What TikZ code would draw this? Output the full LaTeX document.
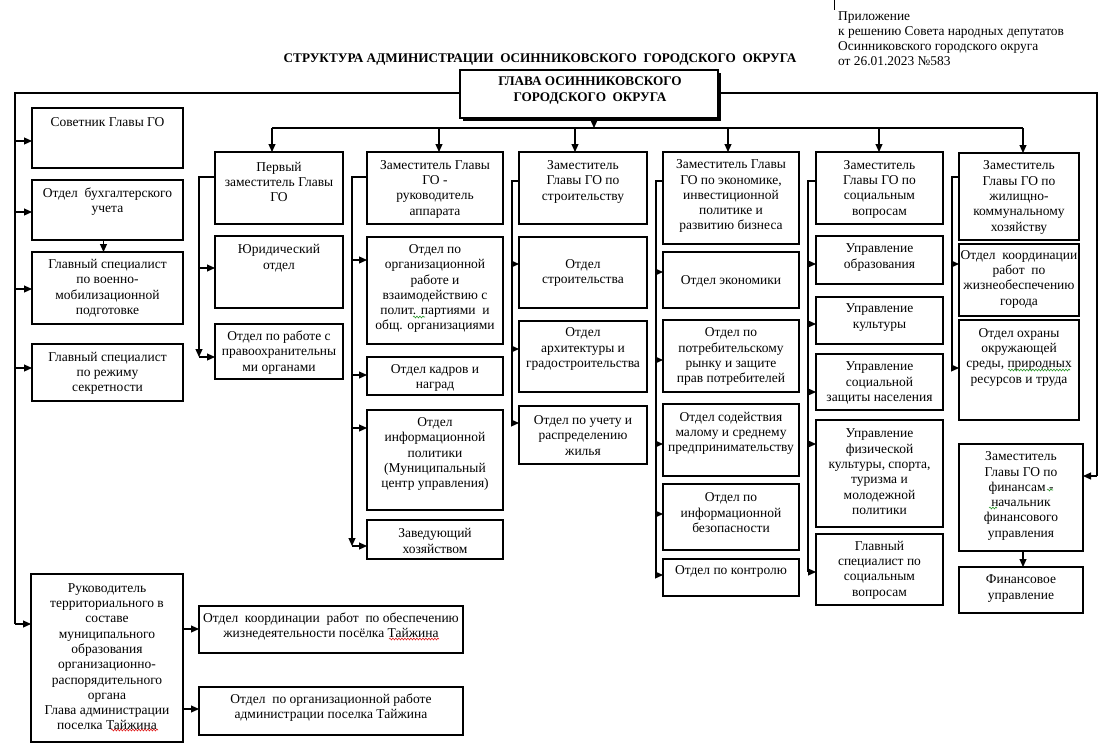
\documentclass[tikz,border=0pt]{standalone}
\usepackage{fontspec}
\setmainfont{Liberation Serif}
\usetikzlibrary{arrows.meta,decorations.pathmorphing}
\newcommand\bx[7]{%
  \node[box, minimum width={#4pt-#2pt}, minimum height={#5pt-#3pt}] (#1) at ({(#2+#4)/2},{(#3+#5)/2}) {};
  \node[txt] (#1-t) at ({(#2+#4)/2},#6) {#7};}
\newcommand\ar[3]{%
  \coordinate (tmp) at (0,#3);
  \draw[arr] (#1 |- tmp) -- (#2.west |- tmp);}
\definecolor{spellred}{RGB}{225,30,30}
\definecolor{spellgreen}{RGB}{40,150,40}
\begin{document}
\begin{tikzpicture}[x=1pt,y=-1pt,
  box/.style={draw, line width=1.1pt, inner sep=0pt, outer sep=0pt, fill=white},
  txt/.style={align=center, inner sep=0pt, font=\fontsize{13.5}{15.3}\selectfont},
  arr/.style={line width=1.1pt, -{Triangle[length=8pt,width=7pt]}},
  ln/.style={line width=1.1pt},
  wavy/.style={line width=0.6pt, decorate, decoration={snake, amplitude=0.9pt, segment length=3pt}}]
\useasboundingbox (0,0) rectangle (1117,753);

% header texts
\node[anchor=west, align=left, inner sep=0pt, font=\fontsize{13.4}{15}\selectfont] (app-note) at (838,38.5)
  {Приложение\\к решению Совета народных депутатов\\Осинниковского городского округа\\от 26.01.2023 №583};
\coordinate (tick1) at (834,0);
\coordinate (tick2) at (834,10);
\draw[line width=0.9pt] (tick1) -- (tick2);
\node[inner sep=0pt, font=\bfseries\fontsize{13.2}{15}\selectfont] (title) at (540,60)
  {СТРУКТУРА АДМИНИСТРАЦИИ\ \ ОСИННИКОВСКОГО\ \ ГОРОДСКОГО\ \ ОКРУГА};

% frame lines
\coordinate (busL) at (15,93);
\coordinate (busR) at (1097,93);
\coordinate (busLe) at (15,624);
\coordinate (busRe) at (1097,476);
\draw[ln] (busLe) -- (busL) -- (busR) -- (busRe);

% head box
\fill (463,73) rectangle (721,121);
\node[box, line width=1.5pt, minimum width=258pt, minimum height=48pt] (head) at (589,94) {};
\node[txt, font=\bfseries\fontsize{13.2}{16}\selectfont] (head-t) at (590,91) {ГЛАВА ОСИННИКОВСКОГО\\ГОРОДСКОГО\ \ ОКРУГА};

% top bus
\coordinate (busT) at (594,128);
\coordinate (busTl) at (272,128);
\coordinate (busTr) at (1023,128);
\draw[arr] (head.south -| busT) -- (busT);
\draw[ln] (busTl) -- (busTr);

% left column
\bx{sov}{32}{108}{183}{168}{122}{Советник Главы ГО}
\bx{bux}{32}{180}{183}{240}{201.8}{Отдел\ \ бухгалтерского\\учета}
\bx{voen}{32}{252}{183}{324}{288.3}{Главный специалист\\по военно-\\мобилизационной\\подготовке}
\bx{sekr}{32}{344}{183}{401}{373.5}{Главный специалист\\по режиму\\секретности}
\bx{ruk}{31}{574}{183}{742}{656.7}{Руководитель\\территориального в\\составе\\муниципального\\образования\\организационно-\\распорядительного\\органа\\Глава администрации\\поселка Тайжина}
\bx{tk1}{199}{606}{463}{653}{626.8}{Отдел\ \ координации\ \ работ\ \ по обеспечению\\жизнедеятельности посёлка Тайжина}
\bx{tk2}{199}{687}{463}{735}{707.5}{Отдел\ \ по организационной работе\\администрации поселка Тайжина}

\ar{busL}{sov}{141}
\ar{busL}{bux}{212}
\ar{busL}{voen}{289}
\ar{busL}{sekr}{368}
\ar{busL}{ruk}{624}
\draw[arr] (bux.south) ++(-4,0) coordinate (bxs) -- (bxs |- voen.north);
\coordinate (rukE1) at (183,629);
\coordinate (rukE2) at (183,709);
\ar{rukE1}{tk1}{629}
\ar{rukE2}{tk2}{709}

% column 1: first deputy
\bx{perv}{215}{152}{343}{224}{182}{Первый\\заместитель Главы\\ГО}
\bx{yur}{215}{236}{343}{308}{258.3}{Юридический\\отдел}
\bx{prav}{215}{324}{343}{379}{352.5}{Отдел по работе с\\правоохранительны\\ми органами}
\coordinate (b1) at (199,177);
\coordinate (b1e) at (199,357);
\draw[arr] (perv.west |- b1) -- (b1) -- (b1e);
\ar{b1}{yur}{268}
\ar{b1}{prav}{357}
\draw[arr] (busTl) -- (busTl |- perv.north);

% column 2
\bx{app}{367}{152}{503}{224}{189.2}{Заместитель Главы\\ГО -\\руководитель\\аппарата}
\bx{org}{367}{237}{503}{344}{288.7}{Отдел по\\организационной\\работе и\\взаимодействию с\\полит. партиями\ \ и\\общ. организациями}
\bx{kadr}{367}{357}{503}{395}{378.2}{Отдел кадров и\\наград}
\bx{inf}{367}{410}{503}{510}{454.2}{Отдел\\информационной\\политики\\(Муниципальный\\центр управления)}
\bx{zav}{367}{520}{503}{559}{541}{Заведующий\\хозяйством}
\coordinate (b2) at (352,177);
\coordinate (b2e) at (352,546);
\draw[arr] (app.west |- b2) -- (b2) -- (b2e);
\ar{b2}{org}{260}
\ar{b2}{kadr}{375}
\ar{b2}{inf}{428}
\ar{b2}{zav}{546}
\coordinate (t2) at (439,128);
\draw[arr] (t2) -- (t2 |- app.north);

% column 3
\bx{str}{519}{152}{647}{224}{181.7}{Заместитель\\Главы ГО по\\строительству}
\bx{ostr}{519}{237}{647}{308}{273.3}{Отдел\\строительства}
\bx{arh}{519}{321}{647}{392}{349.2}{Отдел\\архитектуры и\\градостроительства}
\bx{uch}{519}{406}{647}{464}{435.5}{Отдел по учету и\\распределению\\жилья}
\coordinate (b3) at (512,181);
\coordinate (b3e) at (512,423);
\draw[ln] (str.west |- b3) -- (b3) -- (b3e);
\ar{b3}{ostr}{264}
\ar{b3}{arh}{349}
\ar{b3}{uch}{423}
\coordinate (t3) at (575,128);
\draw[arr] (t3) -- (t3 |- str.north);

% column 4
\bx{eco}{663}{152}{799}{244}{196.3}{Заместитель Главы\\ГО по экономике,\\инвестиционной\\политике и\\развитию бизнеса}
\bx{oeco}{663}{252}{799}{308}{281}{Отдел экономики}
\bx{potr}{663}{320}{799}{392}{356.7}{Отдел по\\потребительскому\\рынку и защите\\прав потребителей}
\bx{sod}{663}{404}{799}{476}{433.5}{Отдел содействия\\малому и среднему\\предпринимательству}
\bx{bez}{663}{484}{799}{550}{512.7}{Отдел по\\информационной\\безопасности}
\bx{kontr}{663}{559}{799}{596}{571.7}{Отдел по контролю}
\coordinate (b4) at (656,181);
\coordinate (b4e) at (656,575);
\draw[ln] (eco.west |- b4) -- (b4) -- (b4e);
\ar{b4}{oeco}{272}
\ar{b4}{potr}{360}
\ar{b4}{sod}{444}
\ar{b4}{bez}{514}
\ar{b4}{kontr}{575}
\coordinate (t4) at (728,128);
\draw[arr] (t4) -- (t4 |- eco.north);

% column 5
\bx{soc}{816}{152}{943}{224}{189.2}{Заместитель\\Главы ГО по\\социальным\\вопросам}
\bx{obr}{816}{236}{943}{284}{257.5}{Управление\\образования}
\bx{kult}{816}{297}{943}{344}{317.5}{Управление\\культуры}
\bx{szn}{816}{354}{943}{410}{383}{Управление\\социальной\\защиты населения}
\bx{fiz}{816}{420}{943}{527}{471.8}{Управление\\физической\\культуры, спорта,\\туризма и\\молодежной\\политики}
\bx{gsp}{816}{534}{943}{605}{570}{Главный\\специалист по\\социальным\\вопросам}
\coordinate (b5) at (808,181);
\coordinate (b5e) at (808,572);
\draw[ln] (soc.west |- b5) -- (b5) -- (b5e);
\ar{b5}{obr}{264}
\ar{b5}{kult}{324}
\ar{b5}{szn}{392}
\ar{b5}{fiz}{444}
\ar{b5}{gsp}{572}
\coordinate (t5) at (879,128);
\draw[arr] (t5) -- (t5 |- soc.north);

% column 6
\bx{zhkh}{959}{153}{1079}{240}{197.5}{Заместитель\\Главы ГО по\\жилищно-\\коммунальному\\хозяйству}
\bx{jizn}{959}{244}{1079}{316}{279.2}{Отдел\ \ координации\\работ\ \ по\\жизнеобеспечению\\города}
\bx{ohr}{959}{320}{1079}{420}{357.2}{Отдел охраны\\окружающей\\среды, природных\\ресурсов и труда}
\bx{fin}{959}{444}{1083}{551}{496}{Заместитель\\Главы ГО по\\финансам -\\начальник\\финансового\\управления}
\bx{finu}{959}{567}{1083}{613}{588.5}{Финансовое\\управление}
\coordinate (b6) at (952,177);
\coordinate (b6e) at (952,368);
\draw[ln] (zhkh.west |- b6) -- (b6) -- (b6e);
\ar{b6}{jizn}{264}
\ar{b6}{ohr}{368}
\draw[arr] (busTr) -- (busTr |- zhkh.north);
\draw[arr] (busRe) -- (fin.east |- busRe);
\coordinate (f6) at (1023,551);
\draw[arr] (fin.south -| f6) -- (finu.north -| f6);

% spell-check marks
\draw[wavy, spellred] (111,730) -- (158,730);
\draw[wavy, spellred] (389,639) -- (439,639);
\draw[wavy, spellgreen] (413,317) -- (425,317);
\draw[wavy, spellgreen] (1008,370) -- (1070,370);
\draw[wavy, spellgreen] (1047,490) -- (1053,490);
\draw[wavy, spellgreen] (989,508) -- (997,508);
\end{tikzpicture}
\end{document}
